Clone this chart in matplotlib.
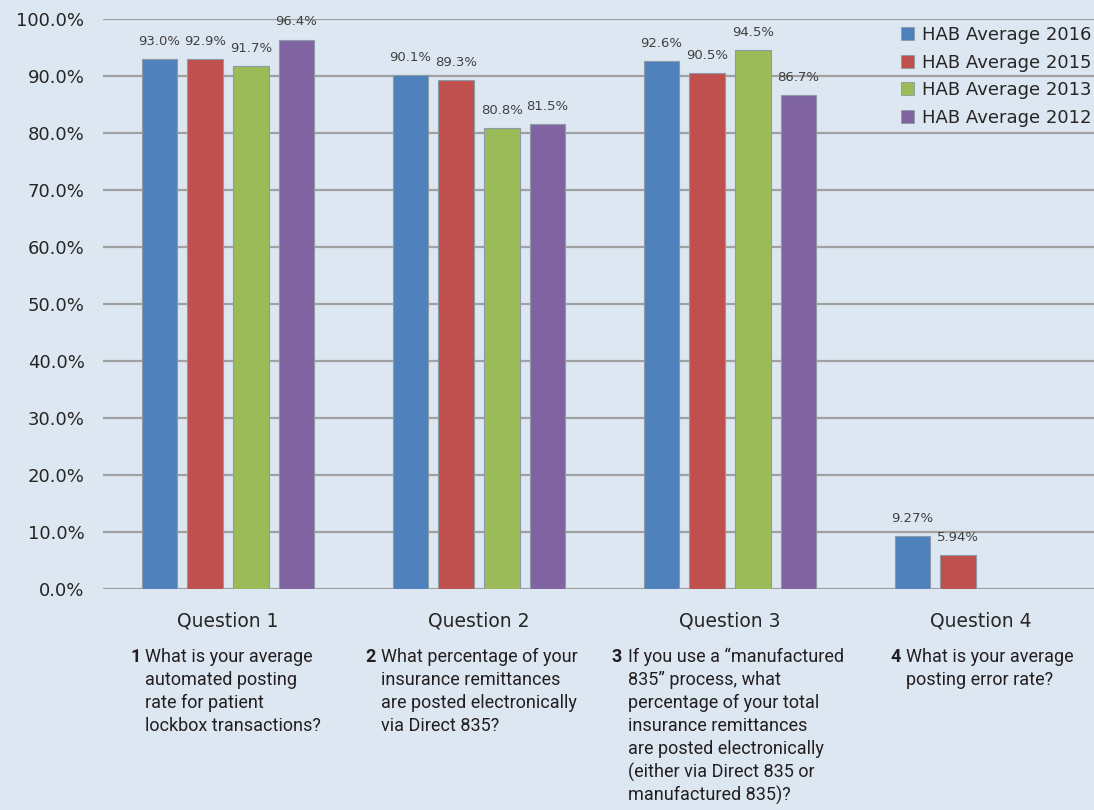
import numpy as np
import matplotlib.pyplot as plt
from matplotlib.patches import Patch

# Datos del grafico
categorias = ["Question 1", "Question 2", "Question 3", "Question 4"]
series = ["HAB Average 2016", "HAB Average 2015", "HAB Average 2013", "HAB Average 2012"]
hab_2016 = [93.0, 90.1, 92.6, 9.27]
hab_2015 = [92.9, 89.3, 90.5, 5.94]
hab_2013 = [91.7, 80.8, 94.5, np.nan]
hab_2012 = [96.4, 81.5, 86.7, np.nan]
etiquetas_2016 = ["93.0%", "90.1%", "92.6%", "9.27%"]
etiquetas_2015 = ["92.9%", "89.3%", "90.5%", "5.94%"]
etiquetas_2013 = ["91.7%", "80.8%", "94.5%", ""]
etiquetas_2012 = ["96.4%", "81.5%", "86.7%", ""]

numeros = ["1", "2", "3", "4"]
preguntas = [
    ["What is your average", "automated posting", "rate for patient", "lockbox transactions?"],
    ["What percentage of your", "insurance remittances", "are posted electronically", "via Direct 835?"],
    ["If you use a \u201cmanufactured", "835\u201d process, what", "percentage of your total",
     "insurance remittances", "are posted electronically", "(either via Direct 835 or",
     "manufactured 835)?"],
    ["What is your average", "posting error rate?"],
]

colores = ["#4f81bd", "#c0504d", "#9bbb59", "#8064a2"]
fondo = "#dde7f1"
W, H = 1094, 810

fig = plt.figure(figsize=(W / 100, H / 100), dpi=100, facecolor=fondo)
ax = fig.add_axes([102.5 / W, 1 - 589 / H, 1004 / W, 570 / H])
ax.set_facecolor("none")

x = np.arange(len(categorias))
ancho = 0.143
paso = 0.182
valores = [hab_2016, hab_2015, hab_2013, hab_2012]
etiquetas = [etiquetas_2016, etiquetas_2015, etiquetas_2013, etiquetas_2012]

for i, (vals, labs) in enumerate(zip(valores, etiquetas)):
    pos = x + (i - 1.5) * paso
    ax.bar(pos, vals, width=ancho, color=colores[i], edgecolor="#8c99a6", linewidth=0.8, zorder=3)
    for p, v, t in zip(pos, vals, labs):
        if t:
            ax.annotate(t, (p, v), xytext=(0, 8), textcoords="offset points",
                        ha="center", va="bottom", fontsize=9.5, color="#404040")

ax.set_xlim(-0.5, 3.5)
ax.set_ylim(0, 100)
ax.set_yticks(np.arange(0, 101, 10))
ax.set_yticklabels([f"{v:.1f}%" for v in np.arange(0, 101, 10)], fontsize=13, color="#262626")
ax.set_xticks(x)
ax.set_xticklabels(categorias, fontsize=13.5, color="#262626")
ax.tick_params(axis="y", length=0, pad=13)
ax.tick_params(axis="x", length=0, pad=16)
for s in ax.spines.values():
    s.set_visible(False)
ax.yaxis.grid(True, color="#a0a0a0", linewidth=1.6)
ax.set_axisbelow(True)

handles = [Patch(facecolor=c, edgecolor="#8c99a6", linewidth=0.6) for c in colores]
ax.legend(handles, series, loc="upper right", bbox_to_anchor=(1 - 3 / W, 1 - 26 / H),
          bbox_transform=fig.transFigure, frameon=False, fontsize=13,
          handlelength=0.75, handleheight=0.75, handletextpad=0.4,
          labelspacing=0.53, borderpad=0, borderaxespad=0, labelcolor="#262626")

# Textos de las preguntas
x_num = [130, 365, 611, 890]
x_txt = [145, 381, 628, 906]
for n, lineas, xn, xt in zip(numeros, preguntas, x_num, x_txt):
    fig.text(xn / W, 1 - 657 / H, n, fontsize=13, fontweight="bold", color="#231f20",
             va="center", ha="left", family="Roboto")
    for k, linea in enumerate(lineas):
        fig.text(xt / W, 1 - (657 + 23 * k) / H, linea, fontsize=13, color="#231f20",
                 va="center", ha="left", family="Roboto")

fig.savefig("out.png", dpi=100, facecolor=fondo)
